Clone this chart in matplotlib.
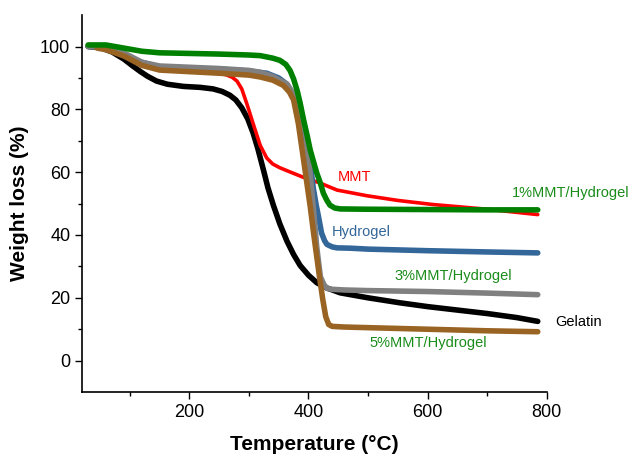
import matplotlib.pyplot as plt
import numpy as np

plt.rcParams['font.family'] = ['Liberation Sans', 'DejaVu Sans']

# ---- data ----
t_gel = [30, 50, 70, 90, 105, 118, 130, 145, 163, 190, 218, 240, 255, 268, 278, 288,
         298, 307, 315, 324, 332, 341, 352, 364, 375, 386, 400, 414, 430, 453, 500, 554,
         600, 650, 700, 750, 785]
w_gel = [100, 99.7, 98.3, 96, 93.8, 92, 90.5, 89, 88, 87.3, 87, 86.5, 85.7, 84.5, 83, 80.5,
         77, 72.5, 67.5, 61, 55, 49.5, 43.5, 38, 33.8, 30.3, 27.2, 24.8, 23.2, 21.6, 20, 18.4,
         17.2, 16.1, 15, 13.7, 12.5]

t_mmt = [30, 60, 90, 120, 150, 200, 250, 262, 272, 280, 288, 297, 307, 319, 330, 340,
         352, 370, 391, 420, 448, 498, 550, 609, 700, 785]
w_mmt = [100, 99.5, 97, 94, 92.5, 92, 91.5, 91, 90.2, 89, 86.5, 81.5, 75.5, 68.5, 64.5, 62.6,
         61.4, 60, 58.4, 56.5, 54.3, 52.5, 51, 49.7, 48.2, 46.5]

t_hyd = [30, 60, 90, 120, 150, 200, 250, 300, 330, 350, 364, 375, 383, 391, 397, 403,
         408, 413, 417, 422, 427, 431, 440, 448, 470, 500, 600, 700, 785]
w_hyd = [100, 99.8, 97.5, 95, 93.5, 93, 92.8, 92.2, 91.5, 90, 88, 84.5, 80, 74, 69, 63,
         55, 49.5, 45.7, 40.6, 38.2, 37, 36.2, 35.9, 35.8, 35.5, 35, 34.6, 34.3]

t_3 = [30, 60, 90, 120, 150, 200, 250, 300, 319, 340, 364, 373, 380, 388, 395, 402,
       408, 414, 420, 426, 431, 440, 460, 500, 600, 700, 785]
w_3 = [100, 100, 98, 95, 93.8, 93.4, 93, 92.4, 91.8, 90.5, 88, 85.5, 82, 77, 72.5, 61,
       49, 36, 26.7, 24.2, 23, 22.7, 22.5, 22.3, 22, 21.5, 21]

t_5 = [45, 60, 90, 120, 150, 200, 250, 300, 319, 340, 358, 368, 375, 383, 391, 397,
       403, 409, 414, 419, 424, 429, 434, 440, 460, 500, 600, 700, 785]
w_5 = [99.5, 99, 97, 94, 92.5, 92, 91.5, 90.9, 90.3, 89.3, 87.6, 85.5, 83, 75.5, 65, 57,
       49, 40, 33, 26, 19.5, 14, 11.5, 10.9, 10.7, 10.5, 10, 9.5, 9.2]

t_1 = [30, 60, 90, 120, 150, 200, 250, 300, 319, 340, 352, 362, 369, 375, 381, 386,
       392, 398, 403, 409, 414, 420, 425, 431, 436, 444, 453, 500, 600, 700, 785]
w_1 = [100.5, 100.5, 99.5, 98.5, 98, 97.8, 97.6, 97.3, 97.1, 96.3, 95.6, 94.3, 92.4, 89.7, 86, 82,
       76.5, 71.5, 67, 63, 59.7, 56.5, 53.3, 51, 49.5, 48.6, 48.3, 48.2, 48.1, 48, 48]

labels = ['MMT', '1%MMT/Hydrogel', 'Hydrogel', '3%MMT/Hydrogel', 'Gelatin', '5%MMT/Hydrogel']
label_xy = [(478, 58.4), (840, 53.3), (488, 41), (643, 27), (814, 12.4), (601, 5.7)]

fig = plt.figure(figsize=(6.32, 4.58), dpi=100)
ax = fig.add_axes([0.13, 0.144, 0.735, 0.823])

ax.plot(t_gel, w_gel, color='black', lw=4, solid_capstyle='round', solid_joinstyle='round')
ax.plot(t_mmt, w_mmt, color='#ff0000', lw=2.6, solid_capstyle='round', solid_joinstyle='round')
ax.plot(t_hyd, w_hyd, color='#336699', lw=4, solid_capstyle='round', solid_joinstyle='round')
ax.plot(t_3, w_3, color='#808080', lw=4, solid_capstyle='round', solid_joinstyle='round')
ax.plot(t_5, w_5, color='#996323', lw=4, solid_capstyle='round', solid_joinstyle='round')
ax.plot(t_1, w_1, color='#008000', lw=4, solid_capstyle='round', solid_joinstyle='round')

lab_col = ['#ff0000', '#1a8c1a', '#336699', '#1a8c1a', 'black', '#1a8c1a']
for s, (x, y), c in zip(labels, label_xy, lab_col):
    ha = 'left' if s == 'Gelatin' else 'center'
    ax.text(x, y, s, color=c, fontsize=10.5, ha=ha, va='center', clip_on=False)

ax.set_xlim(20, 800)
ax.set_ylim(-10, 110)
ax.set_xticks([200, 400, 600, 800])
ax.set_xticks([100, 300, 500, 700], minor=True)
ax.set_yticks([0, 20, 40, 60, 80, 100])
ax.set_yticks([10, 30, 50, 70, 90], minor=True)
ax.tick_params(which='major', length=5, width=1, labelsize=13, direction='out')
ax.tick_params(which='minor', length=3, width=1)
ax.spines['top'].set_visible(False)
ax.spines['right'].set_visible(False)
for sp in ['left', 'bottom']:
    ax.spines[sp].set_linewidth(1.2)
ax.set_xlabel('Temperature (°C)', fontsize=15, fontweight='bold', labelpad=10)
ax.set_ylabel('Weight loss (%)', fontsize=15, fontweight='bold', labelpad=8)

plt.savefig('out.png', dpi=100)
